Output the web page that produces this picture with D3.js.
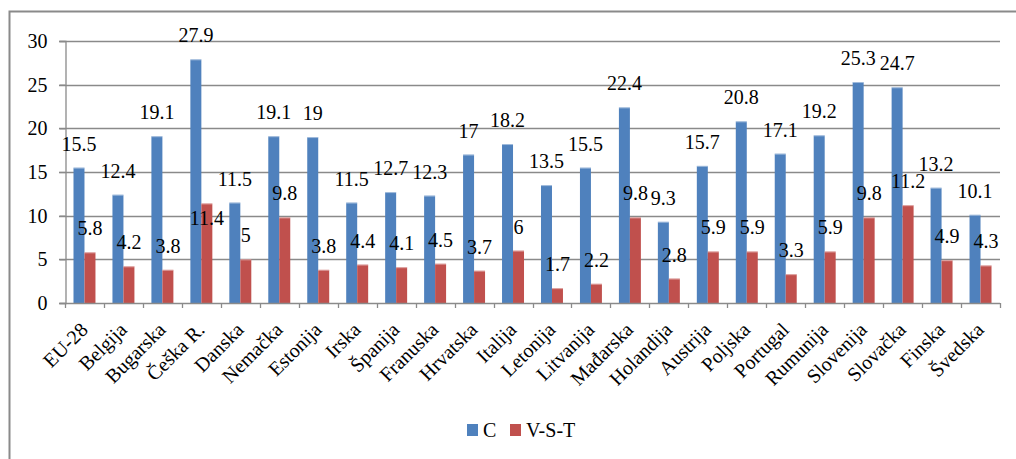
<!DOCTYPE html>
<html>
<head>
<meta charset="utf-8">
<script src="https://cdn.jsdelivr.net/npm/d3@7"></script>
<style>
  html, body { margin: 0; padding: 0; background: #fff; }
  svg { display: block; }
</style>
</head>
<body>
<svg id="chart" width="1016" height="459"></svg>
<script>
// Countries (categories)
const categories = ["EU-28", "Belgija", "Bugarska", "Češka R.", "Danska", "Nemačka", "Estonija",
  "Irska", "Španija", "Franuska", "Hrvatska", "Italija", "Letonija", "Litvanija", "Mađarska",
  "Holandija", "Austrija", "Poljska", "Portugal", "Rumunija", "Slovenija", "Slovačka", "Finska", "Švedska"];

// Series names and values
const seriesNames = ["C", "V-S-T"];
const valuesC   = [15.5, 12.4, 19.1, 27.9, 11.5, 19.1, 19, 11.5, 12.7, 12.3, 17, 18.2, 13.5, 15.5, 22.4,
  9.3, 15.7, 20.8, 17.1, 19.2, 25.3, 24.7, 13.2, 10.1];
const valuesVST = [5.8, 4.2, 3.8, 11.4, 5, 9.8, 3.8, 4.4, 4.1, 4.5, 3.7, 6, 1.7, 2.2, 9.8,
  2.8, 5.9, 5.9, 3.3, 5.9, 9.8, 11.2, 4.9, 4.3];

// Y axis ticks
const yTicks = [0, 5, 10, 15, 20, 25, 30];

const colors = { "C": "#4F81BD", "V-S-T": "#C0504D" };
const FONT = "'Liberation Serif'";

// One data label was placed inside the neighbouring bar, below its own bar top
const labelNudge = { "Češka R.|V-S-T": 39 };

const svg = d3.select("#chart");

// outer frame
svg.append("rect")
  .attr("x", 9.5).attr("y", 11.5)
  .attr("width", 1030).attr("height", 470)
  .attr("fill", "none").attr("stroke", "#8a8a8a").attr("stroke-width", 2);

const plot = { left: 65, right: 1000, top: 41, bottom: 303 };

const x0 = d3.scaleBand().domain(categories).range([plot.left, plot.right]).padding(0);
const bw = x0.bandwidth();
const x1 = d3.scaleBand().domain(seriesNames)
  .range([bw * 0.218, bw * 0.782]).padding(0);
const y = d3.scaleLinear().domain([0, 30]).range([plot.bottom, plot.top]);

// gridlines
svg.append("g").selectAll("line").data(yTicks.filter(t => t > 0)).join("line")
  .attr("x1", plot.left - 6).attr("x2", plot.right)
  .attr("y1", d => Math.round(y(d)) + 0.5).attr("y2", d => Math.round(y(d)) + 0.5)
  .attr("stroke", "#8a8a8a").attr("stroke-width", 1.3);

// y axis
const yAxis = svg.append("g")
  .attr("transform", `translate(${plot.left + 0.5},0)`)
  .call(d3.axisLeft(y).tickValues(yTicks).tickSize(6).tickPadding(12).tickFormat(d3.format("d")));
yAxis.attr("font-family", null).attr("font-size", null);
yAxis.select(".domain").attr("stroke", "#8a8a8a").attr("stroke-width", 1.3);
yAxis.selectAll(".tick line").attr("stroke", "#8a8a8a").attr("stroke-width", 1.3);
yAxis.selectAll(".tick text")
  .style("font-family", FONT)
  .style("font-size", "20px").attr("fill", "#000");

// bars
const rows = categories.map((c, i) => ({ cat: c, vals: [
  { series: "C", value: valuesC[i] },
  { series: "V-S-T", value: valuesVST[i] }
]}));

const groups = svg.append("g").selectAll("g").data(rows).join("g")
  .attr("transform", d => `translate(${x0(d.cat)},0)`);

groups.selectAll("rect").data(d => d.vals).join("rect")
  .attr("x", d => x1(d.series))
  .attr("y", d => y(d.value))
  .attr("width", x1.bandwidth())
  .attr("height", d => y(0) - y(d.value))
  .attr("fill", d => colors[d.series]);

// thin highlight on bar tops
groups.selectAll("line.hl").data(d => d.vals).join("line")
  .attr("class", "hl")
  .attr("x1", d => x1(d.series)).attr("x2", d => x1(d.series) + x1.bandwidth())
  .attr("y1", d => y(d.value) + 0.5).attr("y2", d => y(d.value) + 0.5)
  .attr("stroke", "#ffffff").attr("stroke-opacity", 0.45).attr("stroke-width", 1);

// x axis
const xAxisG = svg.append("g").attr("transform", `translate(0,${plot.bottom})`);
xAxisG.append("line")
  .attr("x1", plot.left - 6).attr("x2", plot.right)
  .attr("y1", 0.5).attr("y2", 0.5)
  .attr("stroke", "#8a8a8a").attr("stroke-width", 1.3);
const boundaries = categories.map(c => x0(c)).concat([plot.right]);
xAxisG.selectAll("line.tk").data(boundaries).join("line")
  .attr("class", "tk")
  .attr("x1", d => Math.round(d) + 0.5).attr("x2", d => Math.round(d) + 0.5)
  .attr("y1", 0).attr("y2", 5)
  .attr("stroke", "#8a8a8a").attr("stroke-width", 1.3);

// category labels, rotated
svg.append("g").selectAll("text").data(categories).join("text")
  .attr("transform", d => `translate(${x0(d) + bw / 2 + 4.5},331) rotate(-45)`)
  .attr("text-anchor", "end")
  .style("font-family", FONT)
  .style("font-size", "20px")
  .attr("fill", "#000")
  .text(d => d);

// data labels
groups.selectAll("text").data(d => d.vals.map(v => ({ ...v, cat: d.cat }))).join("text")
  .attr("x", d => x1(d.series) + x1.bandwidth() / 2)
  .attr("y", d => y(d.value) - 17 + (labelNudge[d.cat + "|" + d.series] || 0))
  .attr("text-anchor", "middle")
  .style("font-family", FONT)
  .style("font-size", "20px")
  .attr("fill", "#000")
  .text(d => d.value);

// legend
const legend = svg.append("g");
const legendItems = [
  { name: "C", x: 467 },
  { name: "V-S-T", x: 510 }
];
legend.selectAll("rect").data(legendItems).join("rect")
  .attr("x", d => d.x).attr("y", 424)
  .attr("width", 11).attr("height", 12)
  .attr("fill", d => colors[d.name]);
legend.selectAll("text").data(legendItems).join("text")
  .attr("x", d => d.x + 16).attr("y", 437)
  .style("font-family", FONT)
  .style("font-size", "20px")
  .attr("fill", "#000")
  .text(d => d.name);
</script>
</body>
</html>
